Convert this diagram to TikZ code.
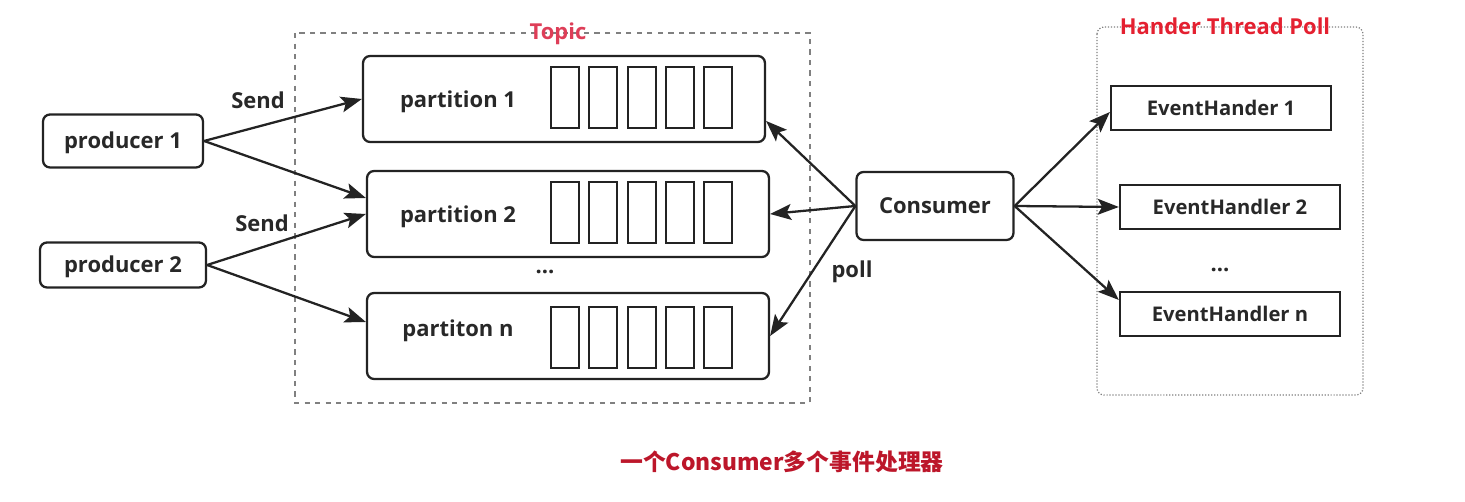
\documentclass[tikz,border=0pt]{standalone}
\usepackage{fontspec}
\setmainfont{Open Sans}
\newfontfamily\cjk{Noto Sans CJK SC}
\usetikzlibrary{arrows.meta}
\definecolor{txtgray}{RGB}{40,40,40}
\definecolor{linegray}{RGB}{35,35,35}
\definecolor{topicred}{RGB}{222,62,88}
\definecolor{poolred}{RGB}{228,32,48}
\definecolor{capred}{RGB}{188,22,42}

\begin{document}
\begin{tikzpicture}[x=0.02cm, y=-0.02cm,
    every node/.style={text=txtgray, font=\fontsize{12.5}{15}\selectfont\bfseries},
    pbox/.style={draw=linegray, line width=1.3pt, rounded corners=4pt, text height=0.85em, text depth=0pt},
    prodbox/.style={pbox, minimum width=3.2cm, minimum height=1.06cm},
    parbox/.style={pbox, minimum width=8.04cm, minimum height=1.72cm},
    hbox/.style={draw=linegray, line width=1.3pt, minimum width=4.4cm, minimum height=0.88cm, text height=0.85em, text depth=0pt, font=\fontsize{11.5}{14}\selectfont\bfseries},
    slot/.style={draw=linegray, line width=1.1pt},
    arr/.style={draw=linegray, line width=1.3pt, -{Stealth[length=12pt, width=9pt, inset=2.5pt]}}
]
    \useasboundingbox (0,0) rectangle (1465,502);

    % Topic container
    \draw[dashed, gray, line width=0.7pt] (295,33) rectangle (810,403);
    \node[text=topicred] (topic) at (558,34) {Topic};

    % handler pool container
    \draw[densely dotted, gray, line width=0.7pt, rounded corners=4pt] (1097,27) rectangle (1363,395);
    \node[text=poolred] (pool) at (1225,26) {Hander Thread Poll};

    % producers
    \node[prodbox] (prod1) at (123,141) {producer 1};
    \node[prodbox, minimum width=3.32cm, minimum height=0.9cm] (prod2) at (123,265) {producer 2};

    % partitions with their slots
    \node[parbox] (part1) at (564,99) {};
    \node[parbox] (part2) at (568,214) {};
    \node[parbox] (partn) at (568,336) {};
    \node (lab1) at (458,102) {partition 1};
    \node (lab2) at (458,217) {partition 2};
    \node (labn) at (458,331) {partiton n};
    \foreach \y in {67,182,307} {
        \foreach \i in {0,...,4}
            \draw[slot] (551+38.3*\i,\y) rectangle ++(28,61);
    }
    \node (pdots) at (545,272) {...};

    % consumer and handlers
    \node[pbox, minimum width=3.14cm, minimum height=1.36cm] (cons) at (935,206) {Consumer};
    \node[hbox] (eh1) at (1221,108) {EventHander 1};
    \node[hbox] (eh2) at (1230,207) {EventHandler 2};
    \node[hbox] (ehn) at (1230,314) {EventHandler n};
    \node (hdots) at (1220,270) {...};

    % send
    \draw[arr] (prod1.east) -- (part1.west);
    \draw[arr] (prod1.east) -- ([yshift=0.32cm]part2.west);
    \draw[arr] (prod2.east) -- (part2.west);
    \draw[arr] (prod2.east) -- ([yshift=0.28cm]partn.west);
    \node (send1) at (258,100) {Send};
    \node (send2) at (262,223) {Send};

    % poll
    \draw[arr] (cons.west) -- ([yshift=-0.44cm]part1.east);
    \draw[arr] (cons.west) -- (part2.east);
    \draw[arr] (cons.west) -- (partn.east);
    \node (poll) at (852,272) {poll};

    % dispatch
    \draw[arr] (cons.east) -- ([yshift=-0.08cm]eh1.west);
    \draw[arr] (cons.east) -- (eh2.west);
    \draw[arr] (cons.east) -- ([yshift=0.28cm]ehn.west);

    \node[text=capred, font=\cjk\fontsize{13}{16}\selectfont\bfseries] (cap) at (782,462) {一个Consumer多个事件处理器};
\end{tikzpicture}
\end{document}
